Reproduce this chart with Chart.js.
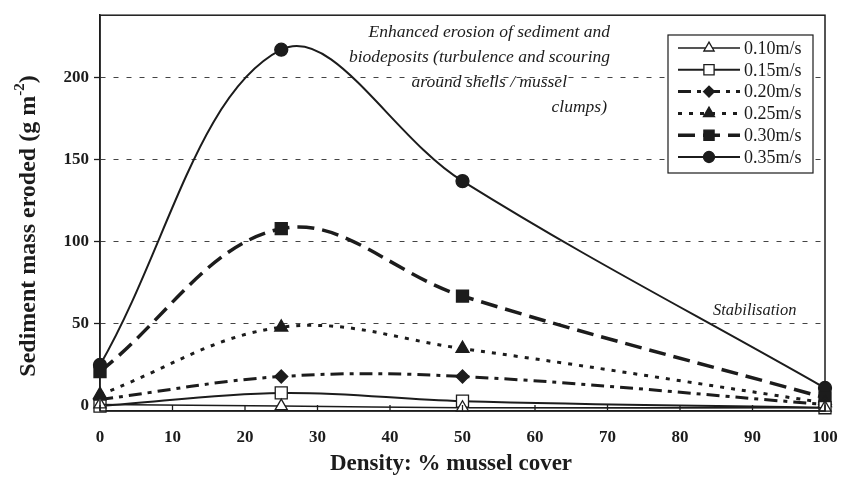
<!DOCTYPE html>
<html><head><meta charset="utf-8">
<script src="https://cdn.jsdelivr.net/npm/chart.js@4.4.0/dist/chart.umd.min.js"></script>
<style>html,body{margin:0;padding:0;background:#fff;}#wrap{width:842px;height:490px;}</style>
</head><body><div id="wrap"><canvas id="c" width="842" height="490"></canvas></div>
<script>
// ---- data ----
const density = [0, 25, 50, 100];
const seriesLabels = ['0.10m/s', '0.15m/s', '0.20m/s', '0.25m/s', '0.30m/s', '0.35m/s'];
const v010 = [1, 0, -1, -1];
const v015 = [0, 8, 3, -1];
const v020 = [4, 18, 18, 1];
const v025 = [7, 48, 35, 2];
const v030 = [21, 108, 67, 5];
const v035 = [25, 217, 137, 11];
const yTickValues = [0, 50, 100, 150, 200];
const xTickValues = [0, 10, 20, 30, 40, 50, 60, 70, 80, 90, 100];
const yTitleMain = 'Sediment mass eroded (g m';
const yTitleSup = '-2';
const yTitleEnd = ')';
const xTitle = 'Density: % mussel cover';
const noteErosion = ['Enhanced erosion of sediment and', 'biodeposits (turbulence and scouring', 'around shells / mussel', 'clumps)'];
const noteStab = 'Stabilisation';

const INK = '#1c1c1c';
const SERIF = '"Liberation Serif", "Times New Roman", serif';

function pts(vals) { return density.map((d, i) => ({x: d, y: vals[i]})); }

const styles = [
  {vals: v010, dash: [], width: 1.6, ps: 'triangle', r: 7, fill: '#fff'},
  {vals: v015, dash: [], width: 2, ps: 'rect', r: 8.5, fill: '#fff'},
  {vals: v020, dash: [13, 6, 4, 6], width: 3, ps: 'rectRot', r: 6.5, fill: INK},
  {vals: v025, dash: [4, 7], width: 3, ps: 'triangle', r: 7.5, fill: INK},
  {vals: v030, dash: [17, 8], width: 3.5, ps: 'rect', r: 8.5, fill: INK},
  {vals: v035, dash: [], width: 2, ps: 'circle', r: 6.5, fill: INK}
];

const datasets = styles.map((s, i) => ({
  label: seriesLabels[i],
  data: pts(s.vals),
  borderColor: INK,
  borderWidth: s.width,
  borderDash: s.dash,
  tension: 0.37,
  fill: false,
  clip: false,
  pointStyle: s.ps,
  pointRadius: s.r,
  pointBackgroundColor: s.fill,
  pointBorderColor: INK,
  pointBorderWidth: 1.3
}));

const decor = {
  id: 'decor',
  afterDraw(chart) {
    const ctx = chart.ctx, a = chart.chartArea, xs = chart.scales.x;
    ctx.save();
    // frame
    ctx.strokeStyle = INK; ctx.lineWidth = 1.5; ctx.setLineDash([]);
    ctx.strokeRect(a.left, a.top, a.right - a.left, a.bottom - a.top);
    // inward x ticks
    ctx.lineWidth = 1.3;
    xTickValues.forEach(v => {
      const px = xs.getPixelForValue(v);
      ctx.beginPath(); ctx.moveTo(px, a.bottom); ctx.lineTo(px, a.bottom - 6); ctx.stroke();
    });
    // x title
    ctx.fillStyle = INK;
    ctx.font = 'bold 23px ' + SERIF; ctx.textAlign = 'center'; ctx.textBaseline = 'middle';
    ctx.fillText(xTitle, 451, 464);
    // y title with superscript
    ctx.translate(29, 226); ctx.rotate(-Math.PI / 2);
    const fMain = 'bold 24px ' + SERIF, fSup = 'bold 15px ' + SERIF;
    ctx.font = fMain; const w1 = ctx.measureText(yTitleMain).width, w3 = ctx.measureText(yTitleEnd).width;
    ctx.font = fSup; const w2 = ctx.measureText(yTitleSup).width;
    let x0 = -(w1 + w2 + w3) / 2;
    ctx.textBaseline = 'middle'; ctx.textAlign = 'left';
    ctx.font = fMain; ctx.fillText(yTitleMain, x0, 0);
    ctx.font = fSup; ctx.fillText(yTitleSup, x0 + w1, -9);
    ctx.font = fMain; ctx.fillText(yTitleEnd, x0 + w1 + w2, 0);
    ctx.restore();

    // annotations
    ctx.save();
    ctx.fillStyle = INK; ctx.font = 'italic 17.5px ' + SERIF;
    ctx.textAlign = 'right'; ctx.textBaseline = 'middle';
    const noteRight = [610, 610, 567, 607];
    noteErosion.forEach((t, i) => ctx.fillText(t, noteRight[i], 32 + i * 25));
    ctx.textAlign = 'left';
    ctx.font = 'italic 16.5px ' + SERIF;
    ctx.fillText(noteStab, 713, 311);
    ctx.restore();

    // legend
    ctx.save();
    const bx = 668, by = 35, bw = 145, bh = 138;
    ctx.fillStyle = '#fff'; ctx.fillRect(bx, by, bw, bh);
    ctx.strokeStyle = INK; ctx.lineWidth = 1.2; ctx.strokeRect(bx, by, bw, bh);
    chart.data.datasets.forEach((ds, i) => {
      const y = 48 + i * 21.8;
      ctx.strokeStyle = INK; ctx.lineWidth = ds.borderWidth;
      ctx.setLineDash(ds.borderDash);
      ctx.beginPath(); ctx.moveTo(678, y); ctx.lineTo(740, y); ctx.stroke();
      ctx.setLineDash([]);
      ctx.fillStyle = ds.pointBackgroundColor; ctx.strokeStyle = INK; ctx.lineWidth = 1.3;
      Chart.helpers.drawPoint(ctx, {pointStyle: ds.pointStyle, radius: ds.pointRadius * 0.85, borderWidth: 1.3, rotation: 0}, 709, y);
      ctx.fillStyle = INK; ctx.font = '18px ' + SERIF; ctx.textAlign = 'left'; ctx.textBaseline = 'middle';
      ctx.fillText(ds.label, 744, y + 1);
    });
    ctx.restore();
  }
};

new Chart(document.getElementById('c'), {
  type: 'line',
  data: {datasets},
  plugins: [decor],
  options: {
    responsive: false,
    animation: false,
    layout: {padding: {left: 0, right: 17, top: 11, bottom: 0}},
    plugins: {legend: {display: false}, tooltip: {enabled: false}},
    scales: {
      x: {
        type: 'linear', min: 0, max: 100,
        afterBuildTicks: s => { s.ticks = xTickValues.map(v => ({value: v})); },
        afterFit: s => { s.height = 79; s.paddingLeft = 0; s.paddingRight = 0; },
        grid: {display: false, drawTicks: false},
        border: {display: true, color: INK, width: 1.5},
        ticks: {padding: 16, color: INK, autoSkip: false, maxRotation: 0,
          font: {family: SERIF, size: 17, weight: 'bold'}},
        title: {display: false, text: xTitle}
      },
      y: {
        min: -3, max: 238,
        afterBuildTicks: s => { s.ticks = yTickValues.map(v => ({value: v})); },
        afterFit: s => { s.width = 100; },
        grid: {
          color: c => (c.tick && c.tick.value === 0) ? 'rgba(0,0,0,0)' : '#444',
          lineWidth: 1, tickColor: INK, tickWidth: 1.3, tickLength: 6, drawTicks: true
        },
        border: {display: true, color: INK, width: 1.5, dash: [5, 8]},
        ticks: {padding: 5, color: INK, font: {family: SERIF, size: 17, weight: 'bold'}}
      }
    }
  }
});
</script></body></html>
